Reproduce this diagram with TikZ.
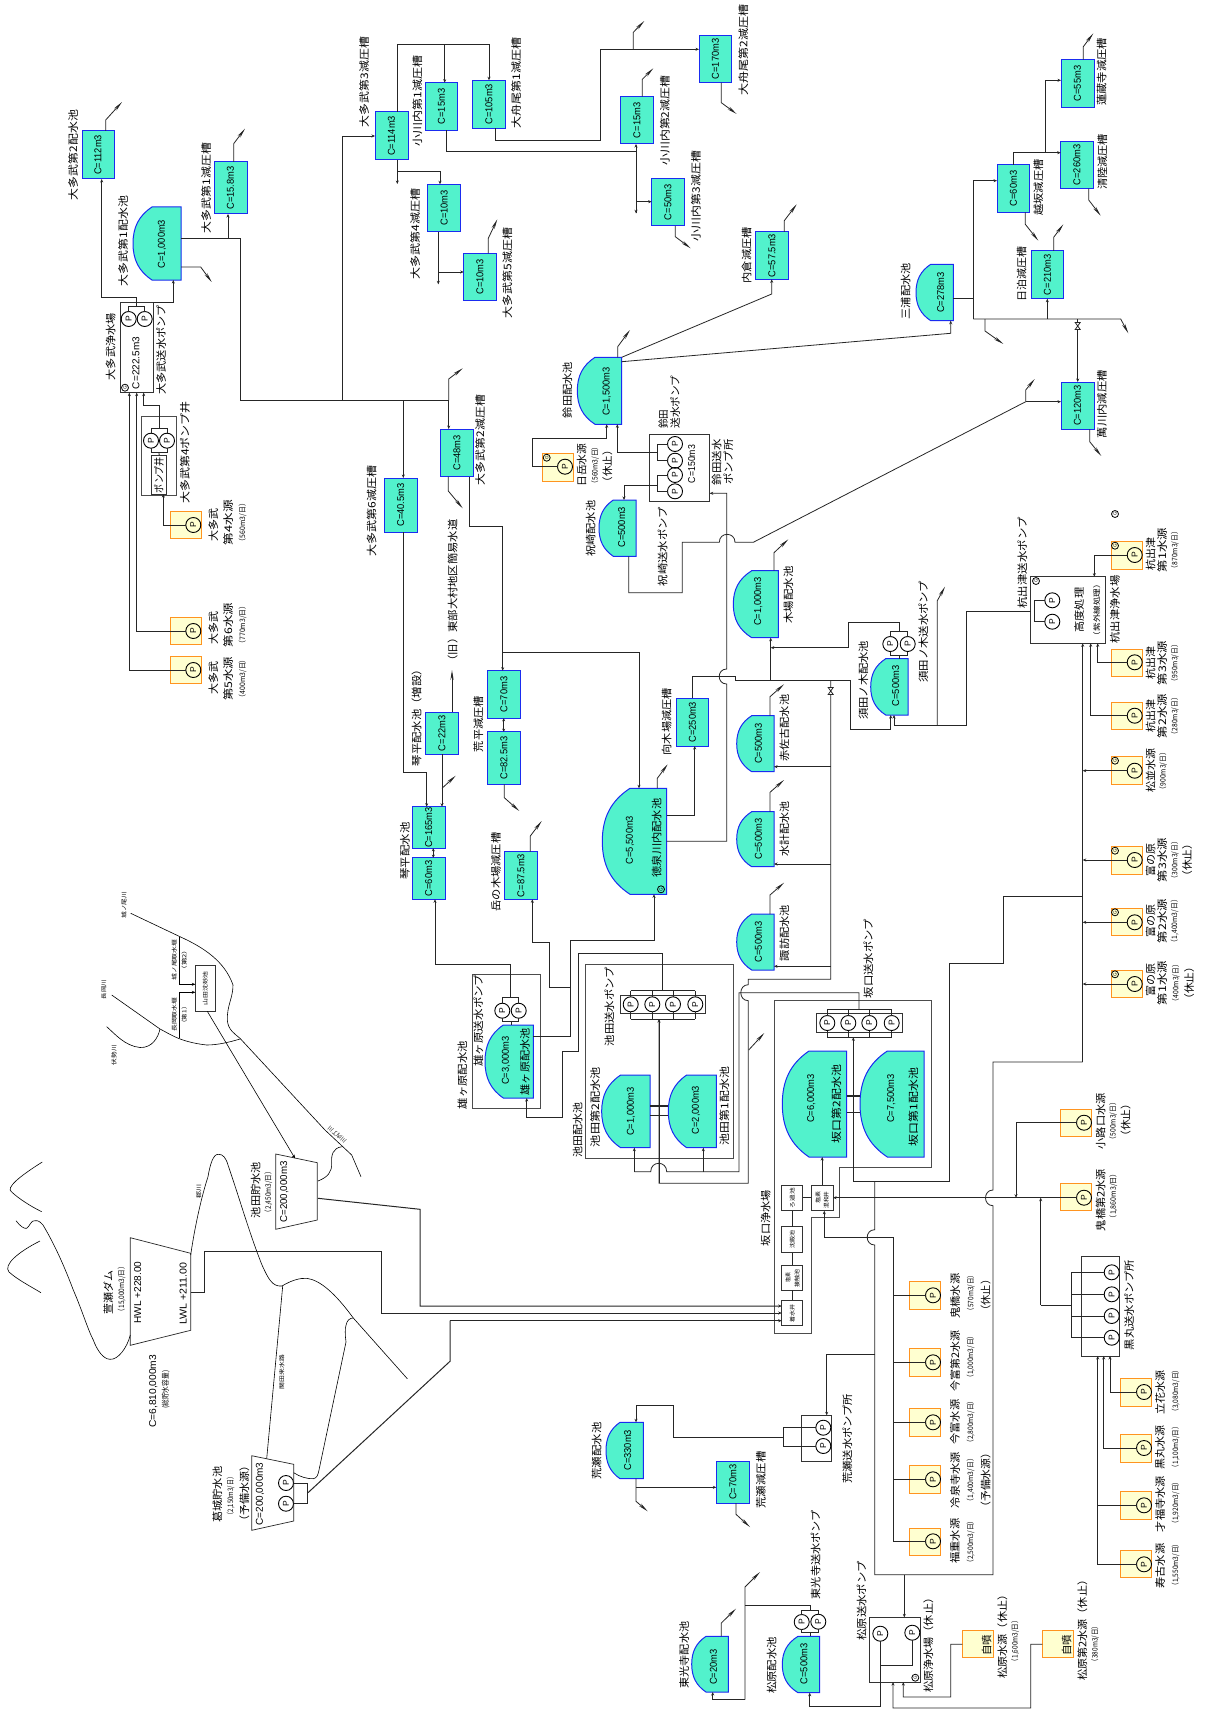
\documentclass[tikz,border=0pt]{standalone}
\usepackage{graphicx}
\usepackage{fontspec}
\setmainfont{Liberation Sans}
\newfontfamily\jp{Noto Sans CJK JP}
\usetikzlibrary{arrows.meta}
\definecolor{tankc}{HTML}{52F2CC}
\definecolor{tankb}{HTML}{1A2CF0}
\definecolor{srcc}{HTML}{FFFFD0}
\definecolor{srcb}{HTML}{FF9420}
\newcounter{lb}
\tikzset{
 txt/.style={rotate=90,inner sep=0pt,outer sep=0pt,anchor=center},
 tankbox/.style={draw=tankb,fill=tankc,line width=1pt,inner sep=0pt,outer sep=0pt,rectangle},
 ghost/.style={inner sep=0pt,outer sep=0pt,rectangle},
 srcbox/.style={draw=srcb,fill=srcc,line width=1pt,inner sep=0pt,outer sep=0pt,rectangle,minimum width=31pt,minimum height=27.5pt},
 pbox/.style={draw=black!80,line width=.8pt,inner sep=0pt,outer sep=0pt,rectangle},
 pumpc/.style={draw=black,line width=.9pt,circle,minimum size=15pt,inner sep=0pt,outer sep=0pt,font=\fontsize{8.5}{9}\selectfont},
 gaugec/.style={draw=black,line width=.8pt,circle,minimum size=7pt,inner sep=0pt,outer sep=0pt,font=\fontsize{4.5}{5}\selectfont},
 pipe/.style={draw=black!85,line width=.8pt},
 frameline/.style={draw=black!70,line width=.8pt},
 river/.style={draw=black,line width=.6pt},
 ar/.style={-{Stealth[length=3.5pt,width=3pt]}},
 outa/.style={draw=black!85,line width=.8pt,-{Stealth[length=10pt,width=3.2pt]}},
}
\newcommand{\ctxt}[1]{\scalebox{.93}[1]{\fontsize{10}{11}\selectfont #1}}
\newcommand{\lab}[4]{\stepcounter{lb}\node[txt] (L\number\value{lb}) at (#1,#2) {\resizebox{#3pt}{\height}{\jp\fontsize{10.5}{12}\selectfont #4}};}
\newcommand{\labs}[4]{\stepcounter{lb}\node[txt] (L\number\value{lb}) at (#1,#2) {\resizebox{#3pt}{\height}{\jp\fontsize{7.5}{9}\selectfont #4}};}
\newcommand{\labt}[4]{\stepcounter{lb}\node[txt] (L\number\value{lb}) at (#1,#2) {\resizebox{#3pt}{\height}{\jp\fontsize{5.5}{7}\selectfont #4}};}
\newcommand{\ctx}[4]{\stepcounter{lb}\node[txt] (L\number\value{lb}) at (#1,#2) {\resizebox{#3pt}{\height}{\fontsize{10}{11}\selectfont #4}};}
\newcommand{\tank}[6]{\node[tankbox,minimum width={(#4-#2)*1pt},minimum height={(#5-#3)*1pt}] (#1) at ({(#2+#4)/2},{(#3+#5)/2}) {\rotatebox{90}{\ctxt{#6}}};}
\newcommand{\dome}[9]{%
 \pgfmathsetmacro\Dh{#5-#3}\pgfmathsetmacro\Dm{(#3+#5)/2}\pgfmathsetmacro\Cxa{#2+0.30*(#6-#2)}%
 \filldraw[draw=tankb,fill=tankc,line width=1pt] (#4,#3) -- (#6,#3) .. controls (\Cxa,{#3+0.12*\Dh}) and (#2,{#3+0.28*\Dh}) .. (#2,\Dm) .. controls (#2,{#5-0.28*\Dh}) and (\Cxa,{#5-0.12*\Dh}) .. (#6,#5) -- (#4,#5) -- cycle;
 \node[ghost,minimum width={(#4-#2)*1pt},minimum height={(#5-#3)*1pt}] (#1) at ({(#2+#4)/2},\Dm) {};
 \stepcounter{lb}\node[txt] (L\number\value{lb}) at (#7,#8) {\ctxt{#9}};}
\newcommand{\pump}[3]{\node[pumpc] (#1) at (#2,#3) {\rotatebox{90}{P}};}
\newcommand{\gauge}[2]{\stepcounter{lb}\node[gaugec] (L\number\value{lb}) at (#1,#2) {\rotatebox{90}{G}};}
\newcommand{\src}[5]{\node[srcbox] (#1) at ({#2+15.5},{#3+13.75}) {};\pump{#1p}{#4}{#5}}
\begin{document}
\begin{tikzpicture}[x=1pt,y=-1pt]
\fill[white] (0,0) rectangle (1208,1712);
\useasboundingbox (0,0) rectangle (1208,1712);

% ---------- frames
\draw[frameline] (472.3,974) rectangle (540.7,1108.7);
\draw[frameline] (585.3,964) rectangle (733.3,1158.3);
\draw[frameline] (774,1000.3) -- (931.7,1000.3) -- (931.7,1167.3) -- (839.7,1167.3) -- (839.7,1217.3) -- (811.3,1217.3) -- (811.3,1333) -- (774,1333) -- cycle;
\draw[frameline] (141,416.3) rectangle (176.7,495.7);

% ---------- tanks
\tank{T112}{82}{131}{114}{179}{C=112m3}
\tank{T158}{214}{162}{247}{214}{C=15.8m3}
\tank{T114}{375}{112}{408}{160}{C=114m3}
\tank{T15a}{425}{82.7}{457.7}{130.3}{C=15m3}
\tank{T105}{472.7}{80.3}{505.3}{128.3}{C=105m3}
\tank{T10a}{427.7}{184.3}{460.7}{231.7}{C=10m3}
\tank{T10b}{463.7}{253.3}{496.3}{300.7}{C=10m3}
\tank{T15b}{620.7}{96.7}{653.3}{144}{C=15m3}
\tank{T50}{651.7}{178.7}{684.3}{226}{C=50m3}
\tank{T170}{699}{35.3}{731.7}{82.7}{C=170m3}
\tank{T575}{755.7}{232}{788.3}{279.3}{C=57.5m3}
\tank{T60b}{997}{164.7}{1029.7}{212.3}{C=60m3}
\tank{T260}{1060.7}{141.3}{1093.3}{188.7}{C=260m3}
\tank{T55}{1061}{59.7}{1094}{107.3}{C=55m3}
\tank{T210}{1031}{251}{1063.7}{298.7}{C=210m3}
\tank{T120}{1061}{382}{1094}{429.3}{C=120m3}
\tank{T405}{384.3}{478}{417}{532}{C=40.5m3}
\tank{T48}{440.7}{429}{473.3}{476.7}{C=48m3}
\tank{T22}{425.7}{712.3}{458.3}{754.3}{C=22m3}
\tank{T165}{412.3}{806.7}{445}{848.3}{C=165m3}
\tank{T60a}{412.3}{857.7}{445}{899.3}{C=60m3}
\tank{T70a}{487.7}{670.7}{520.3}{718.3}{C=70m3}
\tank{T825}{487.7}{731.7}{520.3}{784.3}{C=82.5m3}
\tank{T875}{504.7}{851.7}{537.3}{899.3}{C=87.5m3}
\tank{T250}{676}{698.3}{708.7}{746}{C=250m3}
\tank{T70b}{716.3}{1461}{749.3}{1503}{C=70m3}

% ---------- domes
\dome{D1000}{133}{207}{181}{280}{152}{162}{244}{C=1,000m3}
\dome{D1500}{577.3}{357.3}{621.7}{424.3}{595}{606.7}{391.7}{C=1,500m3}
\dome{D278}{916}{264.3}{953.3}{320.7}{930.7}{940.7}{292.7}{C=278m3}
\dome{D5500}{602.3}{788.3}{666.7}{894.3}{630}{630}{840}{C=5,500m3}
\dome{Dakasa}{736.7}{715.7}{774}{771.7}{751.7}{758.3}{743.7}{C=500m3}
\dome{Dmizu}{736.7}{811.7}{774}{866.7}{751.7}{758.3}{839}{C=500m3}
\dome{Dsuwa}{736.7}{914}{774}{970}{751.7}{758.3}{942}{C=500m3}
\dome{Dkiba}{733.3}{570.7}{778.3}{637.7}{751.7}{758.3}{601.7}{C=1,000m3}
\dome{Dsuda}{870.7}{658.7}{908}{715}{885.7}{895.7}{686}{C=500m3}
\dome{Diwa}{599}{500}{636}{556.3}{613.3}{621.7}{527.3}{C=500m3}
\dome{Dogah}{485}{1025}{533.3}{1098}{503.3}{506}{1060.7}{C=3,000m3}
\dome{Dike2}{601.7}{1075}{650}{1147.7}{620.7}{631}{1111.7}{C=1,000m3}
\dome{Dike1}{668.3}{1075}{716.3}{1147.7}{686.7}{696}{1110}{C=2,000m3}
\dome{Dsak2}{782.3}{1051}{846.7}{1157}{809}{811.3}{1098.7}{C=6,000m3}
\dome{Dsak1}{860}{1051}{924}{1157}{887.3}{891.3}{1098.7}{C=7,500m3}
\dome{Dara}{606}{1422.3}{643.3}{1478.7}{620}{627.7}{1450.3}{C=330m3}
\dome{Dtok}{691.7}{1636.3}{728.3}{1692}{706}{713.3}{1667}{C=20m3}
\dome{Dmat}{782.3}{1636.3}{819.7}{1692.7}{798}{804}{1664}{C=500m3}
\gauge{661}{889.3}

% ---------- sources
\src{Sa}{170.3}{511.3}{193.3}{525}
\src{Sb}{170.3}{617.3}{193.3}{631}
\src{Sc}{170.3}{656.3}{193.3}{670}
\src{Sd}{542.3}{453.7}{565}{466.7}
\gauge{546.7}{457.7}
\src{Se}{1111}{541.7}{1134.7}{555}
\gauge{1115}{545.7}
\gauge{1115}{514}
\src{Sf}{1111}{649.3}{1134.7}{662.3}
\src{Sg}{1111}{702}{1134.7}{715.7}
\src{Sh}{1111}{756.7}{1134.7}{770.7}
\gauge{1115}{760.7}
\src{Si}{1111}{846.7}{1134.7}{860}
\gauge{1115}{850.7}
\src{Sj}{1111}{908.3}{1134.7}{922.3}
\gauge{1115}{912.3}
\src{Sk}{1111}{970.3}{1134.7}{984}
\gauge{1115}{974.3}
\src{Sl}{1060.7}{1109.3}{1084}{1122.7}
\src{Sm}{1060.7}{1183.3}{1084}{1197.7}
\src{Sn}{909.7}{1281.7}{933}{1295.3}
\src{So}{909.7}{1348.7}{933}{1362.3}
\src{Sp}{909.7}{1408.7}{933}{1422.3}
\src{Sq}{909.7}{1465.7}{933}{1479.3}
\src{Sr}{909.7}{1528}{933}{1541.3}
\src{Ss}{1120}{1378.7}{1144}{1392}
\src{St}{1120}{1434.7}{1144}{1448}
\src{Su}{1120}{1491.7}{1144}{1505.3}
\src{Sv}{1120}{1550.3}{1144}{1564.3}
\node[srcbox] (Sw) at (977.8,1644.2) {};
\node[srcbox] (Sx) at (1057.8,1644.2) {};
\lab{986.7}{1645.3}{21}{自噴}
\lab{1066.7}{1645.3}{21}{自噴}

% ---------- plant boxes
\node[pbox,minimum width=33pt,minimum height=90.7pt] (Bo) at (136.8,347.3) {};
\pump{Poa}{128.7}{319}\pump{Pob}{144.7}{319}
\gauge{125}{387.7}
\ctx{136}{363}{52}{C=222.5m3}
\pump{Pwa}{151}{440.7}\pump{Pwb}{167}{440.7}
\node[pbox,minimum width=15pt,minimum height=38.7pt] (Bw) at (159.2,474.7) {};
\lab{159}{475}{36}{ポンプ井}
\node[pbox,minimum width=60pt,minimum height=67pt] (Bs) at (679.7,468.2) {};
\pump{Psa}{675}{444}\pump{Psb}{675}{460.7}\pump{Psc}{675}{475}\pump{Psd}{675}{491.3}
\ctx{691.7}{464}{38}{C=150m3}
\node[pbox,minimum width=75pt,minimum height=66.6pt] (Bk) at (1068.2,610) {};
\pump{Pka}{1052.3}{600.3}\pump{Pkb}{1052.3}{621.7}
\gauge{1036}{581}
\pump{Pua}{890.3}{644}\pump{Pub}{907.7}{644}
\pump{Pga}{502.3}{1010.7}\pump{Pgb}{518.7}{1010.7}
\node[pbox,minimum width=85.7pt,minimum height=18pt] (Bik) at (662.9,1004.3) {};
\pump{Pia}{630.7}{1004.3}\pump{Pib}{652.3}{1004.3}\pump{Pic}{673}{1004.3}\pump{Pid}{695.3}{1004.3}
\node[pbox,minimum width=86pt,minimum height=18.6pt] (Bsk) at (859.3,1023) {};
\pump{Pja}{827.3}{1023}\pump{Pjb}{848.3}{1023}\pump{Pjc}{869.3}{1023}\pump{Pjd}{891.7}{1023}
\node[pbox,minimum width=21pt,minimum height=25.7pt] (Bro) at (792.2,1197.9) {};
\node[pbox,minimum width=21pt,minimum height=26pt] (Bch) at (792.2,1239.7) {};
\node[pbox,minimum width=21pt,minimum height=25pt] (Bsh) at (792.2,1277.5) {};
\node[pbox,minimum width=21pt,minimum height=25pt] (Bcs) at (792.2,1312.8) {};
\node[pbox,minimum width=21.7pt,minimum height=25.7pt] (Bkw) at (822.2,1197.9) {};
\labt{792.2}{1198}{20}{ろ過池}
\labt{792.2}{1239.7}{18}{沈殿池}
\labt{788}{1277}{10}{塩素}
\labt{797}{1278}{18}{接触池}
\labt{792.2}{1313}{18}{着水井}
\labt{818}{1197}{12}{塩素}
\labt{826.3}{1200}{17}{混和井}
\node[pbox,minimum width=37.6pt,minimum height=99.3pt] (Bb) at (1100.5,1306.3) {};
\pump{Pba}{1111.7}{1272.3}\pump{Pbb}{1111.7}{1294.3}\pump{Pbc}{1111.7}{1316}\pump{Pbd}{1111.7}{1337.7}
\node[pbox,minimum width=30pt,minimum height=46pt] (Ba) at (816.7,1438.3) {};
\pump{Paa}{823.3}{1427.7}\pump{Pab}{823.3}{1446}
\node[pbox,minimum width=51pt,minimum height=64.7pt] (Bm) at (894.5,1649.7) {};
\pump{Pma}{880.3}{1633.7}\pump{Pmb}{912.3}{1632.7}
\gauge{915.3}{1677.7}
\pump{Pta}{801.7}{1622}\pump{Ptb}{818.3}{1621.7}
\pump{Pya}{286}{1483}\pump{Pyb}{286}{1503.7}
\node[pbox,minimum width=20pt,minimum height=46pt] (By) at (205.3,988.3) {};
\labt{205.3}{988.3}{34}{山田沈砂池}

% ---------- reservoirs / dam
\draw[pipe,line width=.7pt] (130.3,1237.7) -- (190.7,1253.3) -- (190.7,1330.3) -- (130.3,1345.3) -- cycle;
\draw[pipe,line width=.7pt] (275.7,1154) -- (317.3,1162.7) -- (317.3,1220) -- (275.7,1229.3) -- cycle;
\draw[pipe,line width=.7pt] (251.7,1455.7) -- (293.7,1464.3) -- (293.7,1521) -- (251.7,1530.3) -- cycle;

% ---------- rivers
\draw[river] (42.3,1162) .. controls (20,1176) and (5,1188) .. (11.7,1192) .. controls (18,1198) and (30,1206) .. (41.7,1211.7);
\draw[river] (40,1241) .. controls (18,1252) and (3,1265) .. (9,1272) .. controls (18,1280) and (30,1286) .. (41,1292.7);
\draw[river] (16,1220.7) .. controls (20,1226) and (24,1229) .. (26.7,1228.3) .. controls (30,1226) and (31,1220) .. (35,1220.7) .. controls (39,1220) and (41,1223) .. (43,1225) .. controls (55,1245) and (65,1268) .. (73.3,1290) .. controls (82,1310) and (88,1330) .. (93.3,1340) .. controls (97,1350) and (103,1359) .. (110,1359.3) .. controls (118,1360) and (127,1348) .. (130.3,1335);
\draw[river] (190.7,1255) .. controls (195,1225) and (202,1195) .. (208,1176.7) .. controls (210,1165) and (213,1154) .. (218.3,1154.3) .. controls (223,1154) and (226,1158) .. (228,1165) .. controls (240,1200) and (250,1235) .. (262,1265) .. controls (268,1278) and (272,1287) .. (282,1286) .. controls (292,1280) and (300,1278) .. (306.7,1278.3) .. controls (320,1280) and (335,1293) .. (353.3,1318) -- (407.3,1378.7);
\draw[river] (282.7,1286) -- (266.7,1458.7);
\draw[river] (293.7,1472.7) .. controls (300,1477) and (308,1479) .. (313.3,1478.7) .. controls (317,1478) and (318,1475) .. (319,1470) -- (346,1342) .. controls (345,1335) and (345,1328) .. (346,1325.3) .. controls (347,1320) and (350,1318) .. (353.3,1318);
\draw[river] (130.7,913.3) -- (180,936.7) .. controls (205,948) and (225,962) .. (233,985) .. controls (233,998) and (227,1005) .. (227.3,1020) .. controls (228,1030) and (235,1034) .. (240,1038.3) -- (325,1130) -- (351.7,1155) -- (361,1176.7);
\draw[river] (111.7,995) -- (160,1029) .. controls (170,1034) and (180,1042) .. (206.7,1045) .. controls (218,1045) and (230,1042) .. (240,1039);
\draw[river] (106.7,1026.7) .. controls (115,1034) and (125,1046) .. (140,1047.5) .. controls (152,1048) and (158,1038) .. (160,1029);
\draw[river,ar] (179.3,936.7) -- (179.3,984.3) -- (195.3,984.3);
\draw[river,ar] (179.3,1038.3) -- (179.3,992.3) -- (195.3,992.3);
\draw[river,ar] (207.3,1011.3) -- (295,1158.3);
\draw[river] (318,1181) .. controls (328,1177) and (332,1172) .. (331.7,1163) .. controls (331,1155) and (333,1148) .. (341.7,1146.7);

% ---------- 大多武
\draw[pipe,ar] (136.7,306) -- (136.7,297.7) -- (101.7,297.7) -- (101.7,0 |- T112.south);
\draw[outa] (105.7,0 |- T112.north) -- (105.7,120) -- (122,102);
\draw[pipe] (128.7,311.5) -- (128.7,306) -- (144.7,306) -- (144.7,311.5);
\draw[pipe,ar] (Bo.east |- 0,302.3) -- (173.3,302.3) -- (173.3,0 |- D1000.south);
\draw[outa] (D1000.east |- 0,267) -- (200.7,267) -- (211.7,282);
\draw[pipe,ar] (228,238) -- (228,0 |- T158.south);
\draw[outa] (233.7,0 |- T158.north) -- (233.7,143.7) -- (245,128.7);
\draw[pipe] (D1000.east |- 0,238) -- (240.3,238) -- (240.3,400.3) -- (448.7,400.3);
\draw[pipe,ar] (342,400.3) -- (342,136) -- (T114.west |- 0,136);
\draw[pipe,ar] (403.3,400.3) -- (403.3,0 |- T405.north);
\draw[pipe,ar] (403.3,0 |- T405.south) -- (403.3,772) -- (426.7,772) -- (426.7,0 |- T165.north);
\draw[pipe,ar] (448.7,400.3) -- (448.7,0 |- T48.north);
\draw[outa] (448.7,400.3) -- (448.7,379) -- (462.7,368.3);
\draw[pipe] (397.3,0 |- T114.north) -- (397.3,44.3) -- (489,44.3);
\draw[pipe,ar] (444.7,44.3) -- (444.7,0 |- T15a.north);
\draw[pipe,ar] (489,44.3) -- (489,0 |- T105.north);
\draw[pipe,ar] (397.3,0 |- T114.south) -- (397.3,184);
\draw[pipe,ar] (397.3,171.7) -- (440,171.7) -- (440,0 |- T10a.north);
\draw[pipe,ar] (438.3,0 |- T10a.south) -- (438.3,284.3);
\draw[pipe,ar] (438.3,272) -- (T10b.west |- 0,272);
\draw[outa] (488.3,0 |- T10b.north) -- (488.3,238.3) -- (497.3,219.3);
\draw[pipe] (446.7,0 |- T15a.south) -- (446.7,151) -- (636,151);
\draw[pipe,ar] (636,213.3) -- (636,0 |- T15b.south);
\draw[pipe,ar] (636,151) -- (636,213.3);
\draw[pipe,ar] (636,201.7) -- (T50.west |- 0,201.7);
\draw[pipe,ar] (495,0 |- T105.south) -- (495,140.7) -- (600,140.7) -- (600,49.3) -- (T170.west |- 0,49.3);
\draw[outa] (633.3,49.3) -- (633.3,32.3) -- (644.3,21);
\draw[outa] (721.3,0 |- T170.south) -- (721.3,102.7) -- (736.7,114);
\draw[outa] (642.3,0 |- T15b.north) -- (642.3,79.3) -- (653.3,68.3);
\draw[outa] (675.3,0 |- T50.south) -- (675.3,236.7) -- (690.7,248.3);
% plant below
\draw[pipe,ar] (Scp.west) -- (129.3,670) -- (129.3,0 |- Bo.south);
\draw[pipe,ar] (Sbp.west) -- (136.7,631) -- (136.7,0 |- Bo.south);
\draw[pipe,ar] (159,428.3) -- (159,405.7) -- (143.7,405.7) -- (143.7,0 |- Bo.south);
\draw[pipe] (151,433) -- (151,428.3) -- (167,428.3) -- (167,433);
\draw[pipe] (151,448) -- (151,452.3) -- (167,452.3) -- (167,448);
\draw[pipe] (159,452.3) -- (Bw.north);
\draw[pipe,ar] (Sap.west) -- (163.3,525) -- (163.3,0 |- Bw.south);

% ---------- 鈴田
\draw[outa] (617.7,0 |- D1500.north) -- (617.7,346.7) -- (630,330);
\draw[pipe,ar] (D1500.east |- 0,357.3) -- (771.7,294) -- (771.7,0 |- T575.south);
\draw[pipe,ar] (D1500.east |- 0,361.7) -- (950.7,333.3) -- (950.7,0 |- D278.south);
\draw[outa] (784.3,0 |- T575.north) -- (784.3,220.7) -- (796.7,204.3);
\draw[pipe,ar] (657.3,452.7) -- (617.3,452.7) -- (617.3,0 |- D1500.south);
\draw[pipe,ar] (606.7,438.3) -- (606.7,0 |- D1500.south);
\draw[pipe] (Sdp.west) -- (532.7,466.7) -- (532.7,438.3) -- (606.7,438.3);
\draw[pipe] (Psa.west) -- (657.3,444) -- (657.3,460.7) -- (Psb.west);
\draw[pipe] (Psc.west) -- (657.3,475) -- (657.3,491.3) -- (Psd.west);
\draw[pipe,ar] (657.3,485) -- (624,485) -- (624,0 |- Diwa.north);
\draw[pipe,ar] (D5500.east |- 0,841.3) -- (726.7,841.3) -- (726.7,684) .. controls (716.7,684) and (716.7,669) .. (726.7,669) -- (726.7,493.3) -- (Bs.east |- 0,493.3);
\draw[pipe] (628.7,0 |- Diwa.south) -- (628.7,592.7) -- (682.3,592.7) -- (682.3,542.3) -- (719.3,542.3) .. controls (719.3,531.7) and (735,531.7) .. (735,542.3) -- (753.3,542.3) -- (1025.7,401.7);
\draw[pipe,ar] (1025.7,401.7) -- (T120.west |- 0,401.7);
\draw[outa] (1025.7,401.7) -- (1025.7,390) -- (1034.7,379);
\draw[outa] (1089.7,0 |- T120.south) -- (1089.7,441.7) -- (1101.3,456);

% ---------- 三浦
\draw[pipe] (D278.east |- 0,298.3) -- (973.3,298.3);
\draw[pipe,ar] (973.3,319) -- (973.3,180.7) -- (T60b.west |- 0,180.7);
\draw[outa] (973.3,319) -- (1120.7,319) -- (1128.3,333.3);
\draw[outa] (985,319) -- (985,331) -- (1003.3,344);
\draw[pipe,ar] (1047.3,319) -- (1047.3,0 |- T210.south);
\draw[pipe,ar] (1077.7,319) -- (1077.7,0 |- T120.north);
\draw[pipe,fill=white] (1075.2,322.5) -- (1080.2,329.5) -- (1075.2,329.5) -- (1080.2,322.5) -- cycle;
\draw[pipe,ar] (1013.3,0 |- T60b.north) -- (1013.3,152.7) -- (T260.west |- 0,152.7);
\draw[pipe,ar] (1045.7,152.7) -- (1045.7,80.3) -- (T55.west |- 0,80.3);
\draw[outa] (1025.3,0 |- T60b.south) -- (1025.3,224.3) -- (1038.3,240.7);
\draw[outa] (1088.7,0 |- T260.south) -- (1088.7,200) -- (1100.7,215.7);
\draw[outa] (1083.3,0 |- T55.north) -- (1083.3,46.7) -- (1093.3,33.3);
\draw[outa] (1053.7,0 |- T210.north) -- (1053.7,237.3) -- (1063.3,224.3);

% ---------- 琴平/荒平
\draw[outa] (448.3,0 |- T48.south) -- (448.3,491) -- (462.7,508.3);
\draw[pipe,ar] (469.3,0 |- T48.south) -- (469.3,526.7) -- (502.7,526.7) -- (502.7,0 |- T70a.north);
\draw[pipe,ar] (502.7,652.7) -- (639,652.7) -- (639,0 |- D5500.north);
\draw[pipe,{Stealth[length=3pt,width=3pt]}-{Stealth[length=3pt,width=3pt]}] (503.7,0 |- T70a.south) -- (503.7,0 |- T825.north);
\draw[outa] (504.3,0 |- T825.south) -- (504.3,797.7) -- (519.3,811);
\draw[outa] (452,0 |- T22.north) -- (452,670);
\draw[pipe,ar] (442,0 |- T22.south) -- (442,0 |- T165.north);
\draw[outa] (442,788.3) -- (455.7,775.7);
\draw[pipe,{Stealth[length=3pt,width=3pt]}-{Stealth[length=3pt,width=3pt]}] (433.3,0 |- T165.south) -- (433.3,0 |- T60a.north);
\draw[outa] (530.3,0 |- T875.north) -- (530.3,836) -- (541.7,821);
\draw[outa] (657.3,0 |- D5500.north) -- (657.3,778.3) -- (667.7,764.3);
\draw[pipe,ar] (D5500.east |- 0,815) -- (694.7,815) -- (694.7,0 |- T250.south);
\draw[outa] (770,0 |- Dakasa.north) -- (770,696.7) -- (784,684.3);
\draw[outa] (770,0 |- Dmizu.north) -- (770,792.3) -- (784,780);
\draw[outa] (770,0 |- Dsuwa.north) -- (770,895) -- (784,882.7);
\draw[outa] (774,0 |- Dkiba.north) -- (774,552.7) -- (788.3,539.3);
\draw[pipe] (692.3,0 |- T250.north) -- (692.3,676.7) -- (735,676.7) -- (735,680) -- (850.7,680) -- (850.7,729.3) -- (890.7,729.3);
\draw[pipe,ar] (890.7,729.3) -- (890.7,0 |- Dsuda.south);
\draw[pipe,ar] (770.7,680) -- (770.7,0 |- Dkiba.south);
\draw[pipe,ar] (899,622.3) -- (848.3,622.3) -- (848.3,647.7) -- (770.7,647.7);
\draw[pipe] (899,622.3) -- (899,631.7);
\draw[pipe] (890.3,636.5) -- (890.3,631.7) -- (907.7,631.7) -- (907.7,636.5);
\draw[pipe] (890.3,651.5) -- (890.3,655) -- (907.7,655) -- (907.7,651.5);
\draw[pipe] (899,655) -- (899,0 |- Dsuda.north);
\draw[pipe] (830.7,680) -- (830.7,979.3) -- (748.3,979.3) -- (748.3,984.7) .. controls (738.3,984.7) and (738.3,1000.7) .. (748.3,1000.7) -- (748.3,1183.3) -- (659,1183.3) -- (659,1019);
\draw[pipe,fill=white] (828.2,687.5) -- (833.2,694.5) -- (828.2,694.5) -- (833.2,687.5) -- cycle;
\draw[outa] (748.7,1050) -- (764.3,1033);
\draw[pipe,ar] (830.7,766.7) -- (Dakasa.east |- 0,766.7);
\draw[pipe,ar] (830.7,864) -- (Dmizu.east |- 0,864);
\draw[pipe,ar] (830.7,966.3) -- (Dsuwa.east |- 0,966.3);
\draw[pipe,ar] (894,725) -- (894,0 |- Dsuda.south);
\draw[pipe] (894,725) -- (966.3,725) -- (966.3,611.7) -- (Bk.west |- 0,611.7);
\draw[outa] (937.3,725) -- (937.3,600.7) -- (945,586.7);
\draw[pipe] (1034.7,611.7) -- (1034.7,600.3) -- (Pka.west);
\draw[pipe] (1034.7,611.7) -- (1034.7,621.7) -- (Pkb.west);
\draw[pipe,ar] (Sep.west) -- (1094.3,555) -- (1094.3,0 |- Bk.north);
\draw[pipe,ar] (Sfp.west) -- (1097.7,662.3) -- (1097.7,0 |- Bk.south);
\draw[pipe,ar] (Sgp.west) -- (1090.7,715.7) -- (1090.7,0 |- Bk.south);
\draw[pipe,ar] (Shp.west) -- (1082.7,770.7);
\draw[pipe,ar] (Sip.west) -- (1082.7,860);
\draw[pipe,ar] (Sjp.west) -- (1082.7,922.3);
\draw[pipe,ar] (Skp.west) -- (1082.7,984);
\draw[pipe,ar] (1082.7,1062) -- (1082.7,0 |- Bk.south);

% ---------- 雄ヶ原・池田
\draw[pipe,ar] (510.7,997.3) -- (510.7,964) -- (435,964) -- (435,0 |- T60a.south);
\draw[pipe] (502.3,1003) -- (502.3,997.3) -- (518.7,997.3) -- (518.7,1003);
\draw[pipe] (502.3,1018) -- (502.3,1021.7) -- (518.7,1021.7) -- (518.7,1018);
\draw[pipe] (511.7,1021.7) -- (511.7,0 |- Dogah.north);
\draw[pipe,ar] (Dogah.east |- 0,1036.7) -- (570.3,1036.7) -- (570.3,940) -- (654,940) -- (654,0 |- D5500.south);
\draw[pipe,ar] (570.3,987.3) -- (549.3,987.3) -- (549.3,942) -- (532.3,942) -- (532.3,0 |- T875.south);
\draw[pipe,ar] (562.3,1117.7) -- (526.7,1117.7) -- (526.7,0 |- Dogah.south);
\draw[pipe] (562.3,1117.7) -- (562.3,1051.7) -- (578.3,1051.7) -- (578.3,953.3) -- (662.7,953.3) -- (662.7,990.7);
\draw[pipe] (630.7,990.7) -- (695.3,990.7);
\foreach \xx in {630.7,652.3,673,695.3}{\draw[pipe] (\xx,990.7) -- (\xx,997);\draw[pipe] (\xx,1011.5) -- (\xx,1019);}
\draw[pipe] (630.7,1019) -- (695.3,1019);
\draw[pipe,ar] (659,1183.3) -- (659,1019);
\draw[pipe,ar] (634.3,1171.7) -- (634.3,0 |- Dike2.south);
\draw[pipe] (634.3,1171.7) -- (650.7,1171.7) .. controls (650.7,1160.5) and (666.7,1160.5) .. (666.7,1171.7) -- (739,1171.7) -- (739,992.7) -- (859,992.7) -- (859,1009.3);
\draw[pipe,ar] (703.3,1171.7) -- (703.3,0 |- Dike1.south);
\draw[pipe,line width=1.4pt] (Dike2.east |- 0,1106) -- (Dike1.west |- 0,1106);
\draw[pipe,line width=1.4pt] (Dike2.east |- 0,1115.7) -- (Dike1.west |- 0,1115.7);

% ---------- 坂口
\draw[pipe] (827.3,1009.3) -- (891.7,1009.3);
\foreach \xx in {827.3,848.3,869.3,891.7}{\draw[pipe] (\xx,1009.3) -- (\xx,1015.5);\draw[pipe] (\xx,1030.5) -- (\xx,1037.3);}
\draw[pipe] (827.3,1037.3) -- (891.7,1037.3);
\draw[pipe,ar] (853.3,1181) -- (853.3,1037.3);
\draw[pipe] (853.3,1181) -- (949,1181) -- (949,963.3) -- (1003,963.3) -- (1003,896.7) -- (1082.7,896.7);
\draw[pipe,line width=1.4pt] (Dsak2.east |- 0,1096) -- (Dsak1.west |- 0,1096);
\draw[pipe,line width=1.4pt] (Dsak2.east |- 0,1112.7) -- (Dsak1.west |- 0,1112.7);
\draw[pipe,ar] (Bkw.north) -- (Bkw.north |- Dsak2.south);
\draw[pipe,ar] (Smp.west) -- (Bkw.east |- Smp);
\draw[pipe,ar] (Slp.west) -- (1016,1122.7) -- (1016,1197.7);
\draw[pipe,ar] (1040.7,1305.3) -- (1040.7,1197.7);
\draw[pipe] (1071.7,1305.3) -- (1040.7,1305.3);
\draw[pipe] (Bro.east |- Smp) -- (Bkw.west |- Smp);
\draw[pipe,line width=1pt] (Bcs.north) -- (Bsh.south);
\draw[pipe,line width=1pt] (Bsh.north) -- (Bch.south);
\draw[pipe,line width=1pt] (Bch.north) -- (Bro.south);
\draw[pipe] (1071.7,1272.3) -- (1071.7,1337.7);
\foreach \pp/\yy in {Pba/1272.3,Pbb/1294.3,Pbc/1316,Pbd/1337.7}{\draw[pipe] (1071.7,\yy) -- (\pp.west);}
\draw[pipe,ar] (Ssp.west) -- (1110,1392) -- (1110,0 |- Bb.south);
\draw[pipe,ar] (Stp.west) -- (1103.7,1448) -- (1103.7,0 |- Bb.south);
\draw[pipe,ar] (Svp.west) -- (1097.7,1564.3) -- (1097.7,0 |- Bb.south);
\draw[pipe] (Sup.west) -- (1097.7,1505.3);
% long lines
\draw[pipe] (874.7,1181) -- (874.7,1229.7) .. controls (864.7,1229.7) and (864.7,1245) .. (874.7,1245) -- (874.7,1574.7) -- (993,1574.7) -- (993,1205.7) .. controls (983,1205.7) and (983,1190) .. (993,1190) -- (993,1062) -- (1082.7,1062);
\draw[pipe,ar] (904.3,1574.7) -- (904.3,0 |- Bm.north);
\draw[pipe,ar] (893,1237.3) -- (824.3,1237.3) -- (824.3,0 |- Bkw.south);
\draw[pipe] (893,1237.3) -- (893,1541.3) -- (Srp.west);
\foreach \pp in {Sqp,Spp,Sop,Snp}{\draw[pipe] (893,0 |- \pp) -- (\pp.west);}
\draw[pipe,ar] (874.7,1354.7) -- (826.7,1354.7) -- (826.7,0 |- Ba.north);

% ---------- 荒瀬
\draw[pipe,ar] (783.3,1437.3) -- (673.3,1437.3) -- (673.3,1405.3) -- (636,1405.3) -- (636,0 |- Dara.north);
\draw[pipe] (Paa.west) -- (783.3,1427.7) -- (783.3,1446) -- (Pab.west);
\draw[outa] (636,0 |- Dara.south) -- (636,1501.3) -- (647.7,1511.3);
\draw[pipe,ar] (636,1487.3) -- (T70b.west |- 0,1487.3);
\draw[outa] (736,0 |- T70b.south) -- (736,1514.3) -- (750,1527);

% ---------- 原水
\draw[pipe,line width=1pt] (450,1320.7) -- (450,1361.3) -- (308,1492.7);
\draw[pipe,ar,line width=1pt] (450,1320.7) -- (Bcs.west |- 0,1320.7);
\draw[pipe,ar,line width=1pt] (318,1198.3) -- (420,1209.3) -- (420,1306) -- (Bcs.west |- 0,1306);
\draw[pipe,ar,line width=1pt] (190.7,1292) -- (204.3,1292) -- (204.3,1251.7) -- (381.7,1251.7) -- (381.7,1313) -- (Bcs.west |- 0,1313);
\draw[pipe] (Pya.east) -- (307.7,1483) -- (307.7,1503.7) -- (Pyb.east);

% ---------- 松原・東光寺
\draw[outa] (721.3,0 |- Dtok.north) -- (721.3,1623) -- (736,1608.7);
\draw[pipe,ar] (745,1699.7) -- (712.7,1699.7) -- (712.7,0 |- Dtok.south);
\draw[outa] (745,1699.7) -- (745,1587) -- (760,1572);
\draw[pipe] (745,1605.3) -- (810.7,1605.3) -- (810.7,1610.3);
\draw[pipe] (801.7,1614.5) -- (801.7,1610.3) -- (818.3,1610.3) -- (818.3,1614.5);
\draw[pipe] (801.7,1629) -- (801.7,1632.7) -- (818.3,1632.7) -- (818.3,1629);
\draw[pipe] (810.7,1632.7) -- (810.7,1636.3);
\draw[pipe,line width=1.6pt] (Pmb.south) -- (912.3,1665.3) -- (880.3,1665.3);
\draw[pipe,ar] (Pma.south) -- (880.3,1706) -- (809.7,1706) -- (809.7,0 |- Dmat.south);
\draw[pipe,ar] (Sx.west) -- (1030.7,1644.3) -- (1030.7,1708) -- (893,1708) -- (893,0 |- Bm.south);
\draw[pipe,ar] (Sw.west) -- (950.7,1644.3) -- (950.7,1697) -- (903.3,1697) -- (903.3,0 |- Bm.south);

% ---------- labels
\lab{73}{155}{90}{大多武第2配水池}
\lab{123}{241}{90}{大多武第1配水池}
\lab{206}{188}{90}{大多武第1減圧槽}
\lab{364}{82}{90}{大多武第3減圧槽}
\lab{417.3}{101}{90.7}{小川内第1減圧槽}
\lab{516}{83}{91}{大舟尾第1減圧槽}
\lab{743.3}{50}{91}{大舟尾第2減圧槽}
\lab{665}{120.7}{90}{小川内第2減圧槽}
\lab{696}{196}{90}{小川内第3減圧槽}
\lab{415}{234}{91}{大多武第4減圧槽}
\lab{507.3}{273}{90.7}{大多武第5減圧槽}
\lab{567.3}{390}{56}{鈴田配水池}
\lab{746.7}{255.3}{56}{内倉減圧槽}
\lab{905.7}{291.3}{56}{三浦配水池}
\lab{1038.3}{187.5}{56}{越坂減圧槽}
\lab{1102.3}{162}{56}{清陸減圧槽}
\lab{1101.7}{72}{68}{蓮蔵寺減圧槽}
\lab{1021.7}{274}{55}{日泊減圧槽}
\lab{1102}{404}{68}{萬川内減圧槽}
\lab{371.7}{511}{91}{大多武第6減圧槽}
\lab{480}{440}{90}{大多武第2減圧槽}
\lab{452.7}{593}{147}{（旧）東部大村地区簡易水道}
\lab{416.7}{715}{102}{琴平配水池（増設）}
\lab{478.3}{724}{56}{荒平減圧槽}
\lab{405}{851}{57}{琴平配水池}
\lab{496}{872}{79}{岳の木場減圧槽}
\lab{656.7}{838}{79}{徳泉川内配水池}
\lab{666.7}{721.7}{67}{向木場減圧槽}
\lab{784.3}{728.3}{67}{赤佐古配水池}
\lab{784.3}{829}{55}{水計配水池}
\lab{784.3}{933}{56}{諏訪配水池}
\lab{788.3}{595}{57}{木場配水池}
\lab{863.3}{680.3}{79}{須田ノ木配水池}
\lab{923.3}{631.7}{102}{須田ノ木送水ポンプ}
\lab{1022.3}{563}{91}{杭出津送水ポンプ}
\lab{1115}{609.5}{68}{杭出津浄水場}
\lab{1079}{610}{45}{高度処理}
\labs{1096.7}{610}{60}{（紫外線処理）}
\lab{590.7}{528.7}{56}{祝崎配水池}
\lab{662.7}{546.5}{79}{祝崎送水ポンプ}
\lab{663.3}{419}{19}{鈴田}
\lab{675}{402}{53}{送水ポンプ}
\lab{716.7}{462}{46}{鈴田送水}
\lab{728.3}{462}{45}{ポンプ所}
\lab{478.3}{1020.7}{92}{雄ヶ原送水ポンプ}
\lab{462.3}{1075}{68}{雄ヶ原配水池}
\lab{525}{1061.7}{67}{雄ヶ原配水池}
\lab{609.3}{1006.7}{79}{池田送水ポンプ}
\lab{577.7}{1129.7}{55}{池田配水池}
\lab{595}{1107}{80}{池田第2配水池}
\lab{724.3}{1106}{78}{池田第1配水池}
\lab{765.7}{1218}{56}{坂口浄水場}
\lab{868.3}{958.8}{79}{坂口送水ポンプ}
\lab{836.3}{1104}{78}{坂口第2配水池}
\lab{913.3}{1107}{78}{坂口第1配水池}
\lab{596.7}{1451}{57}{荒瀬配水池}
\lab{761}{1480}{57}{荒瀬減圧槽}
\lab{847.3}{1438.7}{90}{荒瀬送水ポンプ所}
\lab{684}{1655}{67}{東光寺配水池}
\lab{771.7}{1665.3}{57}{松原配水池}
\lab{815.7}{1554.7}{89}{東光寺送水ポンプ}
\lab{861.7}{1601}{79}{松原送水ポンプ}
\lab{928.3}{1642.7}{100}{松原浄水場（休止）}
\lab{1002.3}{1634}{89}{松原水源（休止）}
\labs{1015}{1641}{48}{（1,600m3/日）}
\lab{1082.3}{1627.7}{106}{松原第2水源（休止）}
\labs{1095}{1644}{42}{（380m3/日）}
\lab{1129}{1305}{90}{黒丸送水ポンプ所}
\lab{110.7}{346.7}{67}{大多武浄水場}
\lab{161}{350}{89}{大多武送水ポンプ}
\lab{185}{452.5}{102}{大多武第4ポンプ井}
\lab{213.3}{525}{33}{大多武}\lab{228.3}{522.5}{45}{第4水源}\labs{242.7}{522.5}{45}{（560m3/日）}
\lab{213.3}{628}{33}{大多武}\lab{228.3}{625}{44}{第6水源}\labs{242.7}{625}{45}{（770m3/日）}
\lab{213.3}{678}{33}{大多武}\lab{228.3}{678.7}{44}{第5水源}\labs{242.7}{678.7}{45}{（400m3/日）}
\lab{581.7}{465}{43}{日岳水源}\labs{595}{465.3}{44}{（560m3/日）}\lab{607.3}{466}{42}{（休止）}
\lab{1150.7}{554}{33}{杭出津}\lab{1162.3}{550}{44}{第1水源}\labs{1174.7}{550}{44}{（870m3/日）}
\lab{1150.7}{663}{33}{杭出津}\lab{1162.3}{663}{44}{第3水源}\labs{1174.7}{663}{44}{（950m3/日）}
\lab{1150.7}{716}{33}{杭出津}\lab{1162.3}{716}{44}{第2水源}\labs{1174.7}{716}{44}{（280m3/日）}
\lab{1150.7}{770.7}{44}{松並水源}\labs{1163}{771}{44}{（900m3/日）}
\lab{1150.7}{860}{33}{富の原}\lab{1162.3}{860}{44}{第3水源}\labs{1174.7}{860}{44}{（300m3/日）}\lab{1187}{860}{43}{（休止）}
\lab{1150.7}{921}{33}{富の原}\lab{1162.3}{921}{44}{第2水源}\labs{1174.7}{921}{50}{（1,400m3/日）}
\lab{1150.7}{980}{33}{富の原}\lab{1162.3}{983}{44}{第1水源}\labs{1175.7}{983}{44}{（400m3/日）}\lab{1189}{983}{43}{（休止）}
\lab{1100.7}{1121.3}{56}{小路口水源}\labs{1113}{1121}{44}{（500m3/日）}\lab{1125.7}{1120}{43}{（休止）}
\lab{1100.7}{1200}{62}{鬼橋第2水源}\labs{1113.3}{1196}{52}{（1,860m3/日）}
\lab{955}{1296}{45}{鬼橋水源}\labs{970.7}{1293}{42}{（570m3/日）}\lab{985.7}{1295}{41}{（休止）}
\lab{955}{1361}{61}{今富第2水源}\labs{970.7}{1357}{49}{（1,000m3/日）}
\lab{955}{1422}{45}{今富水源}\labs{970.7}{1422}{49}{（2,800m3/日）}
\lab{955}{1480}{56}{冷泉寺水源}\labs{970.7}{1480}{50}{（1,400m3/日）}\lab{985.7}{1480}{65}{（予備水源）}
\lab{955}{1541}{45}{福重水源}\labs{970.7}{1542}{49}{（2,500m3/日）}
\lab{1160}{1392}{44}{立花水源}\labs{1175.7}{1391}{49}{（3,080m3/日）}
\lab{1160}{1447.3}{44}{黒丸水源}\labs{1175.7}{1447}{48}{（1,100m3/日）}
\lab{1160}{1504}{56}{才福寺水源}\labs{1175.7}{1503}{49}{（1,920m3/日）}
\lab{1160}{1566}{45}{寿古水源}\labs{1175.7}{1565}{49}{（1,550m3/日）}
% dam area
\lab{108.3}{1292}{44}{萱瀬ダム}
\labs{121.7}{1289}{52}{（15,000m3/日）}
\ctx{137.7}{1292.7}{62}{HWL +228.00}
\ctx{183.3}{1293.7}{62}{LWL +211.00}
\ctx{153.3}{1391.3}{73}{C=6,810,000m3}
\labs{165.7}{1389.7}{38}{(総貯水容量)}
\lab{255.7}{1190}{56}{池田貯水池}
\labs{268.3}{1192}{48}{（2,450m3/日）}
\ctx{284.3}{1192}{61}{C=200,000m3}
\lab{217.3}{1494.7}{56}{葛城貯水池}
\labs{230.7}{1496}{44}{（2,150m3/日）}
\lab{244.3}{1493}{66}{（予備水源）}
\ctx{260}{1494}{63}{C=200,000m3}
\labt{124}{905}{27}{城ノ尾川}
\labt{104}{989.5}{19}{長岡川}
\labt{114}{1055}{20}{伏勢川}
\labt{174.3}{960}{41}{城ノ尾取水堰}
\labt{184.3}{960}{27}{（第2）}
\labt{174.3}{1014.7}{34}{長岡取水堰}
\labt{184.3}{1015}{23}{（第1）}
\labt{199}{1191.7}{14}{郡川}
\labt{281.7}{1372}{34}{関田来水路}
\node[inner sep=0pt,rotate=140] (Lriver) at (337,1135) {\jp\fontsize{5.5}{7}\selectfont 川内丁川};
\end{tikzpicture}
\end{document}
